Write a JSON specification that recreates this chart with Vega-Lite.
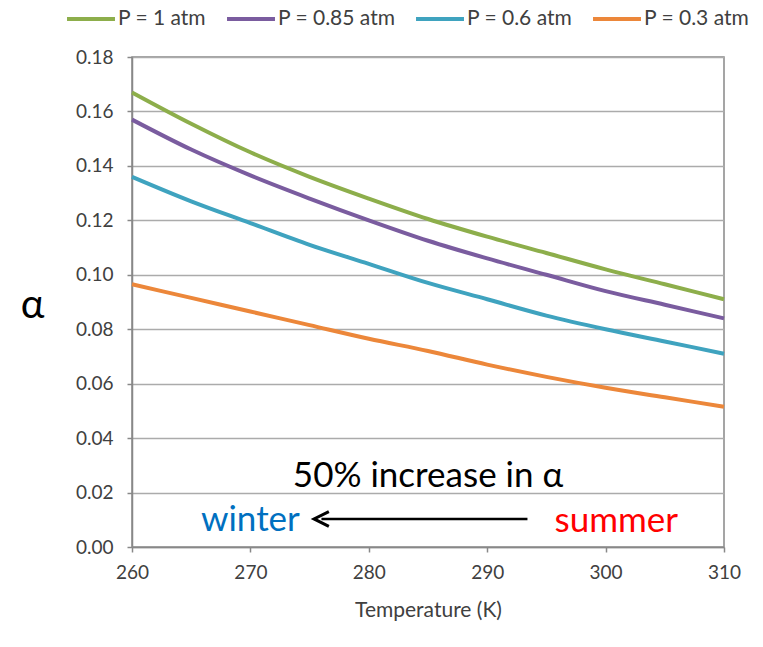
{
  "$schema": "https://vega.github.io/schema/vega-lite/v6.json",
  "autosize": {"type": "none"},
  "padding": {"left": 132, "top": 57, "right": 39, "bottom": 100},
  "width": 592,
  "height": 490,
  "background": "white",
  "config": {
    "font": "Lato",
    "view": {"stroke": "#888888", "strokeWidth": 1.5},
    "axis": {"labelFont": "Lato", "titleFont": "Lato", "labelColor": "#404040", "titleColor": "#404040", "domainColor": "#888888", "domainWidth": 1.5, "tickColor": "#888888", "tickWidth": 1.5, "gridColor": "#ABABAB", "gridWidth": 1.5}
  },
  "datasets": {
    "curves": [
      {"T": 260, "alpha": 0.167, "P": "P = 1 atm"},
      {"T": 265, "alpha": 0.1555, "P": "P = 1 atm"},
      {"T": 270, "alpha": 0.145, "P": "P = 1 atm"},
      {"T": 275, "alpha": 0.136, "P": "P = 1 atm"},
      {"T": 280, "alpha": 0.128, "P": "P = 1 atm"},
      {"T": 285, "alpha": 0.1205, "P": "P = 1 atm"},
      {"T": 290, "alpha": 0.114, "P": "P = 1 atm"},
      {"T": 295, "alpha": 0.108, "P": "P = 1 atm"},
      {"T": 300, "alpha": 0.102, "P": "P = 1 atm"},
      {"T": 305, "alpha": 0.0965, "P": "P = 1 atm"},
      {"T": 310, "alpha": 0.091, "P": "P = 1 atm"},
      {"T": 260, "alpha": 0.157, "P": "P = 0.85 atm"},
      {"T": 265, "alpha": 0.146, "P": "P = 0.85 atm"},
      {"T": 270, "alpha": 0.1365, "P": "P = 0.85 atm"},
      {"T": 275, "alpha": 0.128, "P": "P = 0.85 atm"},
      {"T": 280, "alpha": 0.12, "P": "P = 0.85 atm"},
      {"T": 285, "alpha": 0.1125, "P": "P = 0.85 atm"},
      {"T": 290, "alpha": 0.106, "P": "P = 0.85 atm"},
      {"T": 295, "alpha": 0.1, "P": "P = 0.85 atm"},
      {"T": 300, "alpha": 0.094, "P": "P = 0.85 atm"},
      {"T": 305, "alpha": 0.089, "P": "P = 0.85 atm"},
      {"T": 310, "alpha": 0.084, "P": "P = 0.85 atm"},
      {"T": 260, "alpha": 0.136, "P": "P = 0.6 atm"},
      {"T": 265, "alpha": 0.127, "P": "P = 0.6 atm"},
      {"T": 270, "alpha": 0.119, "P": "P = 0.6 atm"},
      {"T": 275, "alpha": 0.111, "P": "P = 0.6 atm"},
      {"T": 280, "alpha": 0.104, "P": "P = 0.6 atm"},
      {"T": 285, "alpha": 0.097, "P": "P = 0.6 atm"},
      {"T": 290, "alpha": 0.091, "P": "P = 0.6 atm"},
      {"T": 295, "alpha": 0.085, "P": "P = 0.6 atm"},
      {"T": 300, "alpha": 0.08, "P": "P = 0.6 atm"},
      {"T": 305, "alpha": 0.0755, "P": "P = 0.6 atm"},
      {"T": 310, "alpha": 0.071, "P": "P = 0.6 atm"},
      {"T": 260, "alpha": 0.0965, "P": "P = 0.3 atm"},
      {"T": 265, "alpha": 0.0915, "P": "P = 0.3 atm"},
      {"T": 270, "alpha": 0.0865, "P": "P = 0.3 atm"},
      {"T": 275, "alpha": 0.0815, "P": "P = 0.3 atm"},
      {"T": 280, "alpha": 0.0765, "P": "P = 0.3 atm"},
      {"T": 285, "alpha": 0.072, "P": "P = 0.3 atm"},
      {"T": 290, "alpha": 0.067, "P": "P = 0.3 atm"},
      {"T": 295, "alpha": 0.0625, "P": "P = 0.3 atm"},
      {"T": 300, "alpha": 0.0585, "P": "P = 0.3 atm"},
      {"T": 305, "alpha": 0.055, "P": "P = 0.3 atm"},
      {"T": 310, "alpha": 0.0515, "P": "P = 0.3 atm"}
    ],
    "title": [{"T": 285.0, "alpha": 0.026, "label": "50% increase in α"}],
    "winter": [{"T": 270.0, "alpha": 0.0098, "label": "winter"}],
    "summer": [{"T": 300.9, "alpha": 0.0095, "label": "summer"}],
    "arrow": [
      {"T": 293.4, "T2": 276.0, "alpha": 0.0103}
    ]
  },
  "layer": [
    {
      "data": {"name": "curves"},
      "mark": {"type": "line", "strokeWidth": 4, "interpolate": "monotone"},
      "encoding": {
        "x": {"field": "T", "type": "quantitative", "scale": {"domain": [260, 310], "nice": false},
          "axis": {"values": [260, 270, 280, 290, 300, 310], "grid": false, "labelFlush": false, "title": "Temperature (K)", "titleFontSize": 21, "titleFontWeight": "normal", "titlePadding": 17, "labelFontSize": 19, "labelPadding": 11, "tickSize": 5}},
        "y": {"field": "alpha", "type": "quantitative", "scale": {"domain": [0, 0.18], "nice": false},
          "axis": {"values": [0, 0.02, 0.04, 0.06, 0.08, 0.1, 0.12, 0.14, 0.16, 0.18], "format": ".2f", "grid": true, "title": "α", "titleAngle": 0, "titleFontSize": 40, "titleFontWeight": "normal", "titleColor": "#000000", "titleX": -100, "titleY": 248, "titleAlign": "center", "titleBaseline": "middle", "labelFontSize": 19, "labelPadding": 14, "tickSize": 5}},
        "color": {"field": "P", "type": "nominal",
          "scale": {"domain": ["P = 1 atm", "P = 0.85 atm", "P = 0.6 atm", "P = 0.3 atm"], "range": ["#8DAE4B", "#7A5C9F", "#3FA3BF", "#EC873A"]},
          "legend": {"orient": "none", "direction": "horizontal", "legendX": -67, "legendY": -64, "title": null, "symbolType": "stroke", "symbolSize": 2300, "symbolStrokeWidth": 4, "labelFontSize": 21, "labelColor": "#404040", "labelOffset": 1, "columnPadding": 12}}
      }
    },
    {
      "data": {"name": "arrow"},
      "mark": {"type": "rule", "strokeWidth": 2.5, "color": "#000000"},
      "encoding": {
        "x": {"field": "T", "type": "quantitative"},
        "x2": {"field": "T2"},
        "y": {"field": "alpha", "type": "quantitative"}
      }
    },
    {
      "data": {"name": "arrow"},
      "mark": {"type": "point", "shape": "M1,-1L-1,0L1,1", "filled": false, "size": 220, "strokeWidth": 3, "color": "#000000", "opacity": 1},
      "encoding": {
        "x": {"field": "T2", "type": "quantitative"},
        "y": {"field": "alpha", "type": "quantitative"}
      }
    },
    {
      "data": {"name": "title"},
      "mark": {"type": "text", "fontSize": 35, "align": "center", "baseline": "middle", "font": "Lato", "color": "#000000"},
      "encoding": {
        "x": {"field": "T", "type": "quantitative"},
        "y": {"field": "alpha", "type": "quantitative"},
        "text": {"field": "label"}
      }
    },
    {
      "data": {"name": "winter"},
      "mark": {"type": "text", "fontSize": 35, "align": "center", "baseline": "middle", "font": "Lato", "color": "#0070C0"},
      "encoding": {
        "x": {"field": "T", "type": "quantitative"},
        "y": {"field": "alpha", "type": "quantitative"},
        "text": {"field": "label"}
      }
    },
    {
      "data": {"name": "summer"},
      "mark": {"type": "text", "fontSize": 35, "align": "center", "baseline": "middle", "font": "Lato", "color": "#FF0000"},
      "encoding": {
        "x": {"field": "T", "type": "quantitative"},
        "y": {"field": "alpha", "type": "quantitative"},
        "text": {"field": "label"}
      }
    }
  ]
}
